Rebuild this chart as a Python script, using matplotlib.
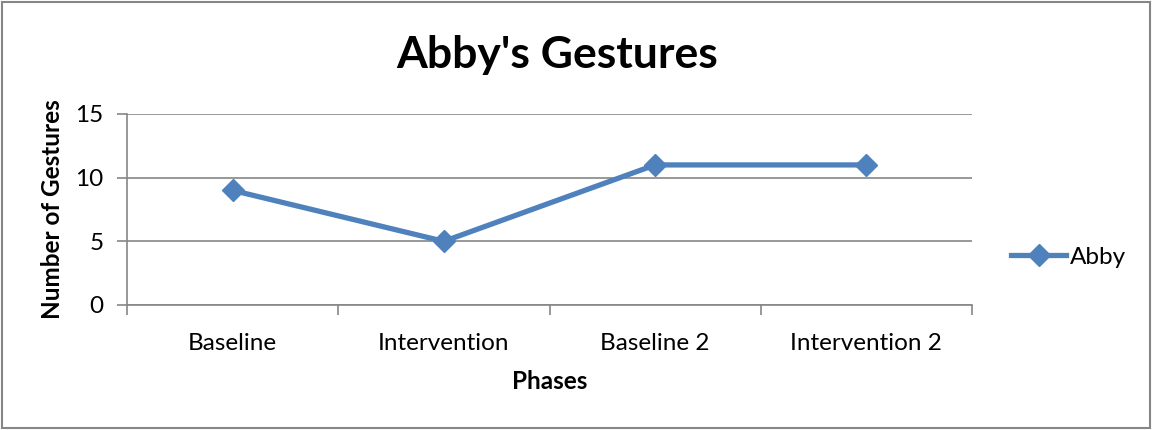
import matplotlib
matplotlib.use("Agg")
import matplotlib.pyplot as plt
from matplotlib.patches import Rectangle

phases = ["Baseline", "Intervention", "Baseline 2", "Intervention 2"]
abby = [9, 5, 11, 11]
y_ticks = [0, 5, 10, 15]

plt.rcParams['font.family'] = ['Lato', 'DejaVu Sans']

fig = plt.figure(figsize=(11.52, 4.3), dpi=100)
ax = fig.add_axes([0.1102, 0.2907, 0.7336, 0.4442])

grid_color = "#868686"
ax.plot(range(len(phases)), abby, color="#4F81BD", linewidth=3.8,
        marker="D", markersize=11, label="Abby")

ax.set_xlim(-0.5, len(phases) - 0.5)
ax.set_ylim(0, 15)
ax.set_yticks(y_ticks)
ax.set_xticks(range(len(phases)))
ax.set_xticklabels(phases)
ax.set_xticks([i - 0.5 for i in range(len(phases) + 1)], minor=True)
ax.tick_params(axis="x", which="major", length=0, pad=20, labelsize=17.5)
ax.tick_params(axis="x", which="minor", length=7, color=grid_color, width=1.2)
ax.tick_params(axis="y", length=7, color=grid_color, width=1.2, labelsize=17.5, pad=10)
ax.yaxis.grid(True, color=grid_color, linewidth=1.2)
ax.set_axisbelow(True)
for side in ["top", "right"]:
    ax.spines[side].set_visible(False)
for side in ["left", "bottom"]:
    ax.spines[side].set_color(grid_color)
    ax.spines[side].set_linewidth(1.2)

ax.set_xlabel("Phases", fontsize=17.5, fontweight="bold", labelpad=12)
ax.set_ylabel("Number of Gestures", fontsize=17.5, fontweight="bold", labelpad=8)
fig.text(0.4835, 0.873, "Abby's Gestures", ha="center", va="center",
         fontsize=32, fontweight="bold")

ax.legend(loc="center left", bbox_to_anchor=(1.035, 0.25), frameon=False,
          fontsize=17.5, handlelength=2.25, handletextpad=0.15, borderaxespad=0)

fig.patches.append(Rectangle((0.002, 0.004), 0.996, 0.992, transform=fig.transFigure,
                             fill=False, edgecolor=grid_color, linewidth=1.5))

fig.savefig("out.png", dpi=100)
